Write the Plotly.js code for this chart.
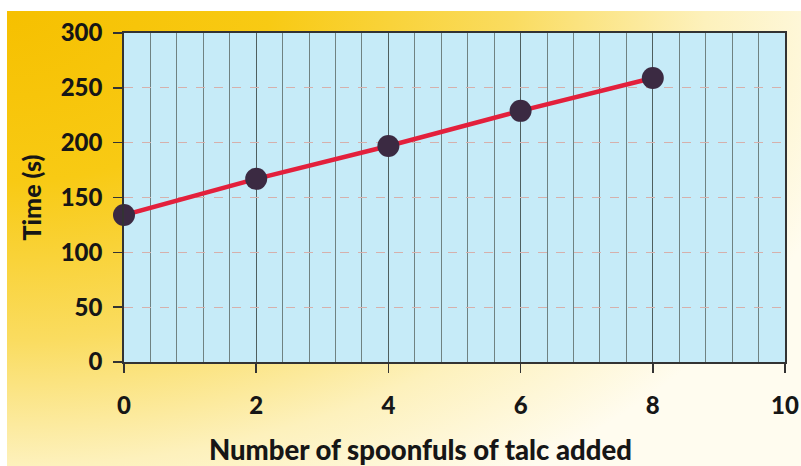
<!DOCTYPE html>
<html>
<head>
<meta charset="utf-8">
<script src="https://cdn.plot.ly/plotly-3.0.1.min.js"></script>
<style>
html,body{margin:0;padding:0;background:#ffffff;}
#chart{width:801px;height:466px;
background-color:#ffffff;
background-image:radial-gradient(ellipse 110% 125% at 0% 0%, #f6c000 0%, #f8ca14 30%, #fadc60 58%, #fdf1bc 80%, #fffcef 100%);
background-repeat:no-repeat;background-position:7px 11px;background-size:794px 455px;}
</style>
</head>
<body>
<div id="chart"></div>
<script>
var spoonfuls = [0, 2, 4, 6, 8];
var timeSeconds = [134, 167, 197, 229, 259];
var xTickVals = [0, 2, 4, 6, 8, 10];
var yTickVals = [0, 50, 100, 150, 200, 250, 300];
var xTitle = 'Number of spoonfuls of talc added';
var yTitle = 'Time (s)';

var font = 'Lato, "Open Sans", sans-serif';

var trace = {
  x: spoonfuls,
  y: timeSeconds,
  type: 'scatter',
  mode: 'lines+markers',
  line: {color: '#e3203c', width: 4.5},
  marker: {color: '#3b2a42', size: 22, line: {width: 0}},
  cliponaxis: false,
  hoverinfo: 'skip'
};

var layout = {
  width: 801, height: 466,
  margin: {l: 124, r: 16, t: 33, b: 104},
  paper_bgcolor: 'rgba(0,0,0,0)',
  plot_bgcolor: '#c6ebf8',
  showlegend: false,
  font: {family: font, color: '#161616'},
  xaxis: {
    range: [0, 10],
    tickvals: xTickVals,
    ticks: 'outside', ticklen: 9, tickwidth: 1.5, tickcolor: '#333',
    showline: true, mirror: true, linecolor: '#333', linewidth: 1.8,
    showgrid: true, gridcolor: '#4e5f5f', gridwidth: 1.3,
    minor: {dtick: 0.4, showgrid: true, gridcolor: '#6f8282', gridwidth: 1, ticks: ''},
    zeroline: false,
    tickfont: {family: font, size: 24, color: '#161616', weight: 900},
    ticklabelstandoff: 12
  },
  yaxis: {
    range: [0, 300],
    tickvals: yTickVals,
    ticks: 'outside', ticklen: 9, tickwidth: 1.5, tickcolor: '#333',
    showline: true, mirror: true, linecolor: '#333', linewidth: 1.8,
    showgrid: true, gridcolor: '#d6b0ac', gridwidth: 1.3, griddash: 'dash',
    zeroline: false,
    tickfont: {family: font, size: 24, color: '#161616', weight: 900},
    ticklabelstandoff: 6,
    title: {text: yTitle, font: {family: font, size: 25, color: '#161616', weight: 900}, standoff: 12}
  },
  annotations: [{
    text: xTitle, xref: 'paper', yref: 'paper',
    x: 0.449, y: -0.265, xanchor: 'center', yanchor: 'middle',
    showarrow: false,
    font: {family: font, size: 27.5, color: '#161616', weight: 900}
  }]
};

Plotly.newPlot('chart', [trace], layout, {staticPlot: true, displayModeBar: false});
</script>
</body>
</html>
